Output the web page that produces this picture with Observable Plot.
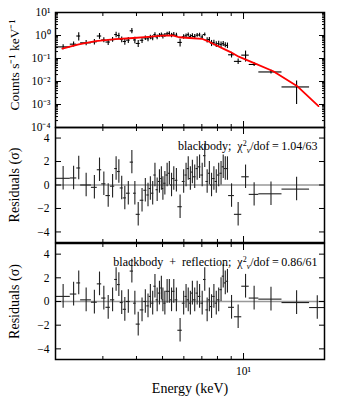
<!DOCTYPE html>
<html><head><meta charset="utf-8">
<script src="https://cdn.jsdelivr.net/npm/d3@7"></script>
<script src="https://cdn.jsdelivr.net/npm/@observablehq/plot@0.6"></script>
<style>
body{margin:0;background:#fff;}
#wrap{position:relative;width:341px;height:410px;}
#wrap svg{position:absolute;left:0;overflow:visible;background:none;}
</style></head><body><div id="wrap"></div>
<script>
// ---- data ----
const binEdges = [2.00, 2.27, 2.40, 2.48, 2.72, 2.86, 2.97, 3.08, 3.20, 3.32, 3.40, 3.48, 3.57, 3.67, 3.79, 3.90, 3.99, 4.13, 4.26, 4.37, 4.46, 4.55, 4.64, 4.73, 4.82, 4.92, 4.98, 5.05, 5.15, 5.25, 5.35, 5.45, 5.56, 5.70, 5.92, 6.06, 6.17, 6.29, 6.40, 6.51, 6.66, 6.79, 6.94, 7.10, 7.25, 7.40, 7.53, 7.68, 7.84, 8.00, 8.17, 8.33, 8.48, 8.63, 8.80, 9.25, 9.85, 10.5, 11.4, 13.9, 17.6, 20.0];
const counts = [0.32, 0.42, 0.95, 0.48, 0.53, 0.95, 0.64, 0.52, 0.66, 1.1, 1.0, 0.67, 0.55, 0.63, 1.6, 0.64, 0.45, 0.62, 0.78, 0.72, 0.84, 0.78, 1.1, 0.86, 1.01, 1.08, 0.92, 1.02, 1.18, 1.24, 1.02, 1.12, 1.03, 0.5, 0.88, 0.97, 1.08, 0.89, 0.99, 0.9, 1.03, 1.05, 0.86, 1.1, 0.63, 0.67, 0.47, 0.49, 0.42, 0.44, 0.41, 0.44, 0.39, 0.37, 0.145, 0.075, 0.14, 0.055, 0.026, 0.0058, null];
const countErr = [0.08, 0.1, 0.38, 0.12, 0.14, 0.27, 0.15, 0.15, 0.15, 0.3, 0.26, 0.18, 0.17, 0.18, 0.42, 0.2, 0.15, 0.17, 0.18, 0.19, 0.19, 0.19, 0.21, 0.2, 0.2, 0.21, 0.21, 0.21, 0.22, 0.23, 0.22, 0.22, 0.21, 0.18, 0.19, 0.2, 0.21, 0.2, 0.2, 0.2, 0.2, 0.2, 0.18, 0.18, 0.16, 0.15, 0.14, 0.13, 0.12, 0.12, 0.11, 0.11, 0.1, 0.1, 0.04, 0.02, 0.07, 0.01, 0.005, 0.0048, null];
const residBB = [0.57, 0.6, 1.45, 0, -0.2, 1.3, 0.1, -0.9, -0.1, 1.4, 1.15, -0.25, -1.1, -0.7, 1.95, -0.7, -2.5, -1.3, -0.45, -0.85, -0.3, -0.7, 0.85, -0.4, 0.3, 0.55, -0.3, 0.15, 0.85, 1.0, 0, 0.55, 0.4, -1.85, 0.3, 0.85, 1.4, 0.55, 1.1, 0.7, 1.4, 1.55, 0.85, 2.5, 0.3, 1.0, 0, 0.55, 0.3, 0.85, 1.0, 1.55, 1.4, 1.4, -0.9, -2.5, 0.7, -0.8, -0.75, -0.35, null];
const residRefl = [0.43, 0.63, 1.57, 0.14, -0.06, 1.49, 0.29, -0.49, 0.14, 1.86, 1.43, -0.09, -0.66, 0, 2.57, -0.14, -1.91, -0.71, 0, -0.37, 0.43, -0.14, 1.29, 0.14, 0.71, 1.14, 0.14, -0.14, 0.86, 0.86, 0.14, 0.86, 0.14, -2.43, -0.14, 0.43, 0.14, -0.14, 0.71, 0.14, 0.71, 0.43, -0.14, 1.86, -0.71, 0.14, -0.43, 0.43, -0.14, 0.14, 1.0, 2.14, 1.57, 1.71, -0.49, -1.29, 1.29, 0.29, 0.2, -0.09, -0.51];
const residSigma = 1;
const modelEnergy = [2.12, 2.44, 2.82, 3.34, 3.9, 4.42, 5.0, 5.45, 5.75, 6.3, 7.0, 7.4, 7.7, 8.4, 8.95, 9.6, 10.9, 12.9, 15.9, 19.0];
const modelCounts = [0.27, 0.41, 0.57, 0.69, 0.78, 0.88, 0.98, 1.02, 0.84, 0.78, 0.72, 0.56, 0.44, 0.27, 0.19, 0.12, 0.065, 0.028, 0.006, 0.00085];
const xMajorTicks = [10];
const xMinorTicks = [2, 3, 4, 5, 6, 7, 8, 9];
const yMajorTicks = [1e-4, 1e-3, 1e-2, 1e-1, 1e0, 1e1];
const residTicks = [-4, -2, 0, 2, 4];
const labelCounts = "Counts s\u207B\u00B9 keV\u207B\u00B9";
const labelResid = "Residuals (\u03C3)";
const labelEnergy = "Energy (keV)";
const annotBB = {name: "blackbody;", chi: "1.04/63"};
const annotRefl = {name: "blackbody\u00A0 +\u00A0 reflection;", chi: "0.86/61"};

// ---- build rows ----
const bins = counts.map((c, i) => ({lo: binEdges[i], hi: binEdges[i + 1], e: (binEdges[i] + binEdges[i + 1]) / 2,
  c, ce: countErr[i], rb: residBB[i], rr: residRefl[i]}));
const model = modelEnergy.map((e, i) => ({e, m: modelCounts[i]}));

const supMap = {"-": "\u207B", "0": "\u2070", "1": "\u00B9", "2": "\u00B2", "3": "\u00B3", "4": "\u2074", "5": "\u2075"};
const fmtPow = d => "10" + String(Math.round(Math.log10(d))).split("").map(ch => supMap[ch]).join("");
const fmtRes = d => d < 0 ? "\u2212" + (-d) : String(d);

const W = 341, ML = 55, MR = 17;
const FONT = "Liberation Serif";
const styleObj = {fontFamily: FONT, fontSize: "11px", background: "none", overflow: "visible", color: "black"};

function xAxes(labels) {
  return [
    Plot.axisX(xMajorTicks, {anchor: "bottom", tickSize: -6, tickPadding: 13, fill: labels ? "black" : "none", tickFormat: fmtPow, fontSize: 11.5, label: null}),
    Plot.axisX(xMinorTicks, {anchor: "bottom", tickSize: -3, fill: "none", label: null}),
    Plot.axisX(xMajorTicks, {anchor: "top", tickSize: -6, fill: "none", label: null}),
    Plot.axisX(xMinorTicks, {anchor: "top", tickSize: -3, fill: "none", label: null})
  ];
}
const xScale = {type: "log", domain: [2, 20], axis: null, label: null};

// top panel
const yMinor = [];
for (const d of yMajorTicks.slice(0, -1)) for (let k = 2; k <= 9; k++) yMinor.push(d * k);
const valid = bins.filter(d => d.c != null);
const p1 = Plot.plot({
  width: W, height: 127, marginLeft: ML, marginRight: MR, marginTop: 12, marginBottom: 0,
  style: styleObj,
  x: xScale,
  y: {type: "log", domain: [1e-4, 10], axis: null, label: null},
  marks: [
    Plot.ruleY(valid, {x1: "lo", x2: "hi", y: "c", stroke: "black", strokeWidth: 1.1}),
    Plot.ruleX(valid, {x: "e", y1: d => d.c - d.ce, y2: d => d.c + d.ce, stroke: "black", strokeWidth: 1.1}),
    Plot.line(model, {x: "e", y: "m", stroke: "#ff0000", strokeWidth: 1.8}),
    ...xAxes(false),
    Plot.axisY(yMajorTicks, {anchor: "left", tickSize: -6, tickPadding: 11, tickFormat: fmtPow, fontSize: 11.5, label: null}),
    Plot.axisY(yMinor, {anchor: "left", tickSize: -3, fill: "none", label: null}),
    Plot.axisY(yMajorTicks, {anchor: "right", tickSize: -6, fill: "none", label: null}),
    Plot.axisY(yMinor, {anchor: "right", tickSize: -3, fill: "none", label: null}),
    Plot.text([labelCounts], {frameAnchor: "left", textAnchor: "middle", dx: -41, dy: -5, rotate: -90, fontSize: 13.5}),
    Plot.frame({stroke: "black", strokeWidth: 1.5})
  ]
});

function residPlot(key, annot, mTop, mBottom, h, bottomLabels) {
  const rows = bins.filter(d => d[key] != null);
  return Plot.plot({
    width: W, height: h, marginLeft: ML, marginRight: MR, marginTop: mTop, marginBottom: mBottom,
    style: styleObj,
    x: xScale,
    y: {domain: [-4.9, 4.9], axis: null, label: null},
    marks: [
      Plot.ruleY([0], {stroke: "#999", strokeWidth: 1.5}),
      Plot.ruleY(rows, {x1: "lo", x2: "hi", y: key, stroke: "#222", strokeWidth: 1.1}),
      Plot.ruleX(rows, {x: "e", y1: d => d[key] - residSigma, y2: d => d[key] + residSigma, stroke: "#222", strokeWidth: 1.1}),
      ...xAxes(bottomLabels),
      Plot.axisY(residTicks, {anchor: "left", tickSize: -6, tickPadding: 12, tickFormat: fmtRes, fontSize: 11.5, label: null}),
      Plot.axisY(residTicks, {anchor: "right", tickSize: -6, fill: "none", label: null}),
      Plot.text([annot.name + "\u00A0 \u03C7|" + annot.chi], {frameAnchor: "top-right", dx: -7, dy: 14, textAnchor: "end", fontSize: 12}),
      Plot.text([labelResid], {frameAnchor: "left", textAnchor: "middle", dx: -41, rotate: -90, fontSize: 14}),
      ...(bottomLabels ? [Plot.text([labelEnergy], {frameAnchor: "bottom", textAnchor: "middle", dy: 33, fontSize: 14})] : []),
      Plot.frame({stroke: "black", strokeWidth: 1.5})
    ]
  });
}
const p2 = residPlot("rb", annotBB, 10, 11, 136, false);
const p3 = residPlot("rr", annotRefl, 11, 51, 178, true);

const wrap = document.getElementById("wrap");
[[p1, 0], [p2, 117], [p3, 232]].forEach(([p, t]) => { p.style.top = t + "px"; wrap.appendChild(p); });

// chi-square annotation: superscript 2, subscript nu
const NS = "http://www.w3.org/2000/svg";
wrap.querySelectorAll("text").forEach(t => {
  const s = t.textContent;
  if (!s.includes("\u03C7|")) return;
  const [pre, chi] = s.split("|");
  t.textContent = "";
  const mk = (txt, attrs) => { const ts = document.createElementNS(NS, "tspan"); ts.textContent = txt; for (const k in attrs) ts.setAttribute(k, attrs[k]); t.appendChild(ts); };
  mk(pre, {});
  mk("2", {dy: -4, "font-size": 8});
  mk("\u03BD", {dy: 7, "font-size": 8, "font-style": "italic"});
  mk("/dof\u2009=\u2009" + chi, {dy: -3});
});
</script></body></html>
